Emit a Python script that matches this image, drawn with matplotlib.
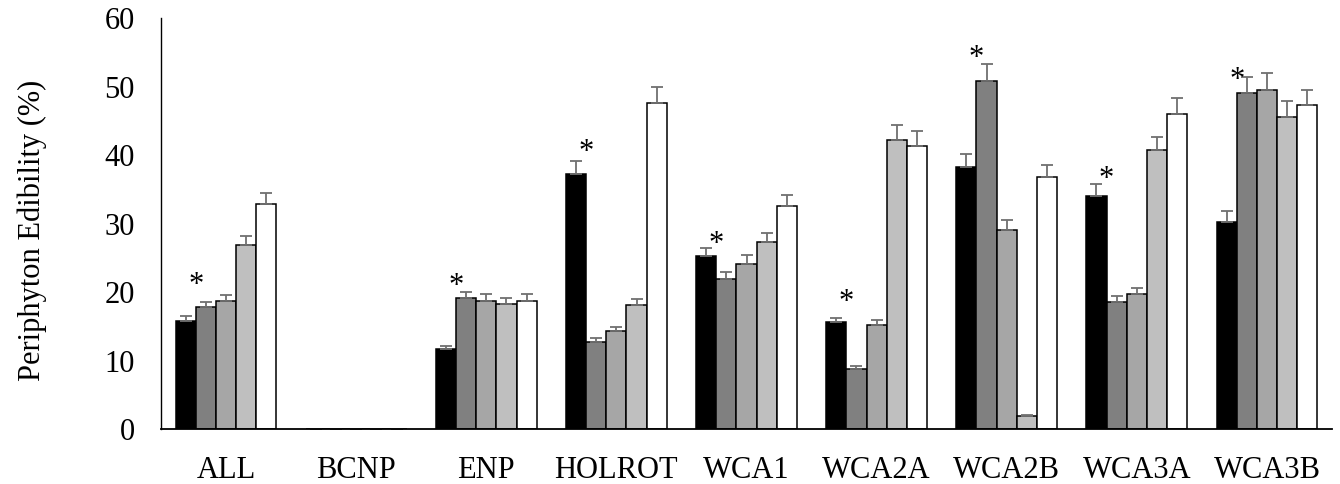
import numpy as np
import matplotlib
matplotlib.use("Agg")
from matplotlib import pyplot as plt

categories = ["ALL", "BCNP", "ENP", "HOLROT", "WCA1", "WCA2A", "WCA2B", "WCA3A", "WCA3B"]

# five series per site (bar order: black, dark gray, mid gray, light gray, white)
series_1 = [15.8, 0, 11.7, 37.3, 25.3, 15.6, 38.3, 34.1, 30.3]
series_2 = [17.8, 0, 19.1, 12.8, 22.0, 8.8, 50.8, 18.6, 49.1]
series_3 = [18.8, 0, 18.8, 14.3, 24.2, 15.2, 29.1, 19.8, 49.6]
series_4 = [26.9, 0, 18.3, 18.1, 27.3, 42.3, 2.0, 40.8, 45.6]
series_5 = [32.9, 0, 18.8, 47.6, 32.6, 41.4, 36.8, 46.1, 47.3]

err_1 = [0.8, 0, 0.5, 1.8, 1.2, 0.7, 1.9, 1.7, 1.5]
err_2 = [0.8, 0, 0.9, 0.6, 1.0, 0.4, 2.5, 0.9, 2.3]
err_3 = [0.8, 0, 0.9, 0.7, 1.2, 0.7, 1.5, 0.9, 2.4]
err_4 = [1.3, 0, 0.9, 0.9, 1.3, 2.1, 0.1, 1.9, 2.3]
err_5 = [1.6, 0, 0.9, 2.4, 1.6, 2.1, 1.8, 2.2, 2.2]

# significance markers (height of the asterisk, None = no marker)
star_y = [22.1, None, 22.0, 41.5, 28.1, 19.7, 55.3, 37.6, 52.0]

series = [series_1, series_2, series_3, series_4, series_5]
errors = [err_1, err_2, err_3, err_4, err_5]
colors = ["#000000", "#808080", "#a6a6a6", "#bfbfbf", "#ffffff"]

plt.rcParams["font.family"] = ["Liberation Serif", "DejaVu Serif"]

fig = plt.figure(figsize=(13.4, 4.84), dpi=100)
ax = fig.add_axes([161/1340, 1 - 429.3/484, (1332 - 161)/1340, (429.3 - 18.3)/484])

x = np.arange(len(categories))
width = 0.155
for i, (vals, errs, col) in enumerate(zip(series, errors, colors)):
    pos = x + (i - 2) * width
    ax.bar(pos, vals, width, color=col, edgecolor="black", linewidth=1.1, zorder=2)
    ax.errorbar(pos, vals, yerr=[np.zeros(len(errs)), errs], fmt="none",
                ecolor="#707070", elinewidth=1.3, capsize=4.3, capthick=1.3, zorder=3)

fs = 22
for xi, ys in zip(x, star_y):
    if ys is None:
        continue
    ax.annotate("*", (xi - 1.5 * width, ys), xytext=(0, -fs * 0.5), textcoords="offset points",
                ha="center", va="baseline", fontsize=fs)

ax.set_xlim(-0.5, len(categories) - 0.5)
ax.set_ylim(0, 60)
ax.set_yticks(np.arange(0, 61, 10))
ax.set_xticks(x)
ax.set_xticklabels(categories)
ax.tick_params(axis="both", length=0, labelsize=fs, pad=19)
ax.set_ylabel("Periphyton Edibility (%)", fontsize=fs)
ax.yaxis.set_label_coords(-0.097, 0.485)

for side in ["top", "right"]:
    ax.spines[side].set_visible(False)
ax.spines["left"].set_linewidth(1.0)
ax.spines["bottom"].set_linewidth(1.3)
ax.spines["bottom"].set_zorder(4)

fig.savefig("out.png", dpi=100)
